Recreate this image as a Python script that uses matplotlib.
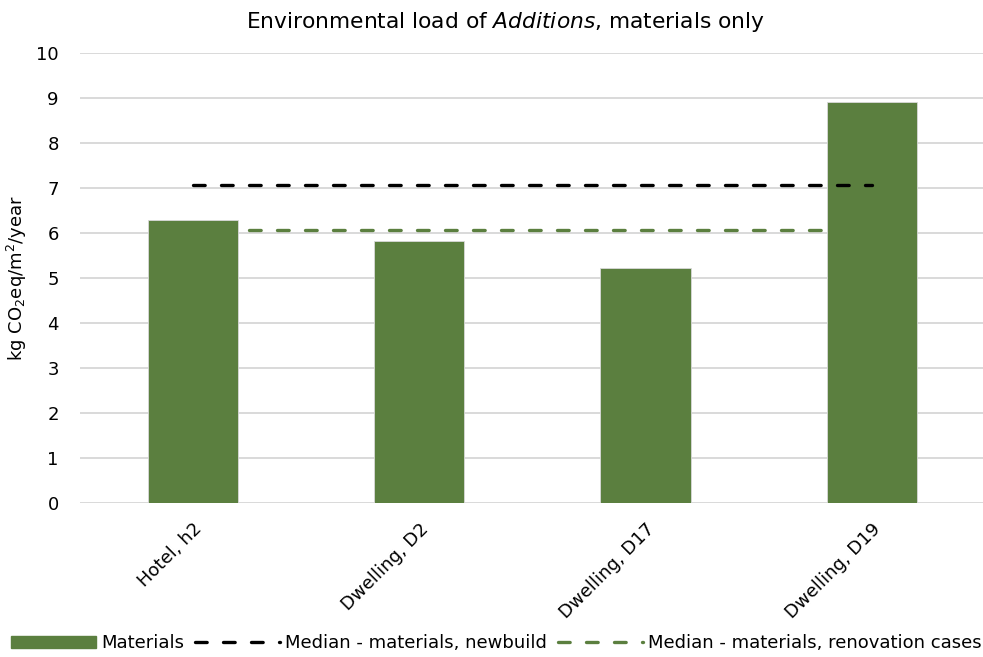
import matplotlib.pyplot as plt
from matplotlib.patches import Patch
from matplotlib.lines import Line2D

# data
categories = ['Hotel, h2', 'Dwelling, D2', 'Dwelling, D17', 'Dwelling, D19']
materials = [6.29, 5.82, 5.22, 8.92]
median_newbuild = [7.07, 7.07, 7.07, 7.07]
median_renovation = [6.07, 6.07, 6.07, 6.07]

green = '#5b7f3f'
grid_grey = '#d9d9d9'

plt.rcParams['font.family'] = ['DejaVu Sans']

fig = plt.figure(figsize=(9.83, 6.57), dpi=100)
ax = fig.add_axes([0.081, 0.234, 0.921, 0.685])

x = list(range(len(categories)))
ax.bar(x, materials, width=0.40, color=green, edgecolor='#d9d9d9', linewidth=0.6, zorder=2)

dash = (3.5, 4.9)
lw = 2.4
ax.plot(x, median_newbuild, color='black', linewidth=lw, dashes=dash,
        dash_capstyle='round', zorder=3)
ax.plot(x, median_renovation, color=green, linewidth=lw, dashes=dash,
        dash_capstyle='round', zorder=3)

ax.set_xlim(-0.5, 3.5)
ax.set_ylim(0, 10)
ax.set_yticks(range(0, 11))
ax.yaxis.grid(True, color=grid_grey, linewidth=1.4, zorder=0)
ax.set_axisbelow(True)
for s in ax.spines.values():
    s.set_visible(False)
ax.tick_params(axis='y', length=0, pad=15, labelsize=13)
ax.tick_params(axis='x', length=0, pad=12)
ax.set_xticks(x)
ax.set_xticklabels(categories, rotation=45, ha='right', va='top',
                   rotation_mode='anchor', fontsize=13)

ax.set_ylabel(r'kg CO$_2$eq/m$^2$/year', fontsize=13)
ax.yaxis.set_label_coords(-0.056, 0.5)

fig.suptitle(r'Environmental load of $\it{Additions}$, materials only',
             fontsize=15.7, y=0.985, x=0.514)

handles = [
    Patch(facecolor=green, edgecolor=green),
    Line2D([], [], color='black', linewidth=lw, dashes=dash, dash_capstyle='round'),
    Line2D([], [], color=green, linewidth=lw, dashes=dash, dash_capstyle='round'),
]
labels = ['Materials', 'Median - materials, newbuild', 'Median - materials, renovation cases']
fig.legend(handles, labels, loc='center', bbox_to_anchor=(0.505, 0.021), ncol=3,
           frameon=False, fontsize=13, handlelength=4.7, handletextpad=0.3,
           columnspacing=0.6, borderaxespad=0)

fig.savefig('out.png', dpi=100)
